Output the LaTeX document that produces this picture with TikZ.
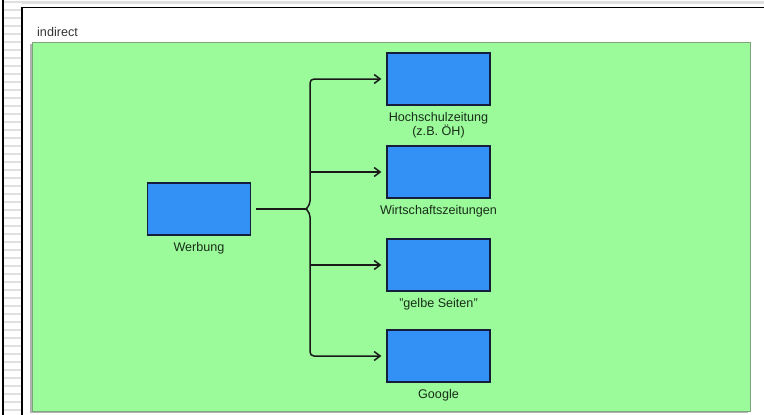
\documentclass[tikz,border=0pt]{standalone}
\usepackage{fontspec}
\setmainfont{Liberation Sans}
\usetikzlibrary{arrows.meta, positioning}
\definecolor{bggreen}{RGB}{155,251,155}
\definecolor{greenedge}{RGB}{125,165,125}
\definecolor{boxblue}{RGB}{51,145,245}
\definecolor{boxedge}{RGB}{20,30,60}
\definecolor{lbltext}{RGB}{25,45,25}
\tikzset{
	boxnode/.style={draw=boxedge, fill=boxblue, line width=1.2pt, minimum width=103pt, minimum height=52pt, inner sep=0pt},
	lbl/.style={text=lbltext, font=\fontsize{12.6}{14}\selectfont, align=center, inner sep=0pt},
	conn/.style={line width=1.5pt, draw=black!90},
}

\begin{document}
\begin{tikzpicture}[>={Straight Barb[length=6pt,width=9pt]}, x=1pt, y=-1pt]
		\useasboundingbox (0,0) rectangle (764,415);
		%frame
			%striped strip on the left
			\foreach \y in {2,10,...,414}
				\draw [black!12, line width=1.5pt] (3,\y) to (22,\y);
			\draw [line width=1.5pt] (3,0) to (3,415);
			\draw [black!12, line width=3pt] (22,2.5) to (764,2.5);
			\draw [line width=1.5pt] (22,415) to (22,7.5) to (764,7.5);
			%title
			\node [lbl, anchor=west, text=black!80] (title) at (37,32) {indirect};
			%green area with shadow
			\fill [black!30] (30,44) rectangle (748,413);
			\draw [greenedge, fill=bggreen, line width=1pt] (32,42) rectangle (750,411);
		%boxes
			\node [boxnode] (werb) at (199,209) {};
			\node [boxnode] (hoch) at (438.5,79) {};
			\node [boxnode] (wirt) at (438.5,172) {};
			\node [boxnode] (gelb) at (438.5,265) {};
			\node [boxnode] (goog) at (438.5,356) {};
		%labels
			\node [lbl, below=6.5pt of werb] (werblbl) {Werbung};
			\node [lbl, below=6.5pt of hoch] (hochlbl) {Hochschulzeitung\\(z.B. ÖH)};
			\node [lbl, below=6.5pt of wirt] (wirtlbl) {Wirtschaftszeitungen};
			\node [lbl, below=6.5pt of gelb] (gelblbl) {"gelbe Seiten"};
			\node [lbl, below=6.5pt of goog] (googlbl) {Google};
		%connectors
			\coordinate (tip) at (306,209);
			\coordinate (trunk) at (310,209);
			\draw [conn, shorten <=5pt] (werb) to (tip);
			\draw [conn, ->, rounded corners=4pt, shorten >=5pt] (tip) -- ++(4,-4) |- (hoch);
			\draw [conn, ->, rounded corners=4pt, shorten >=5pt] (tip) -- ++(4,4) |- (goog);
			\draw [conn, ->, shorten >=5pt] (wirt -| trunk) to (wirt);
			\draw [conn, ->, shorten >=5pt] (gelb -| trunk) to (gelb);
\end{tikzpicture}
\end{document}
